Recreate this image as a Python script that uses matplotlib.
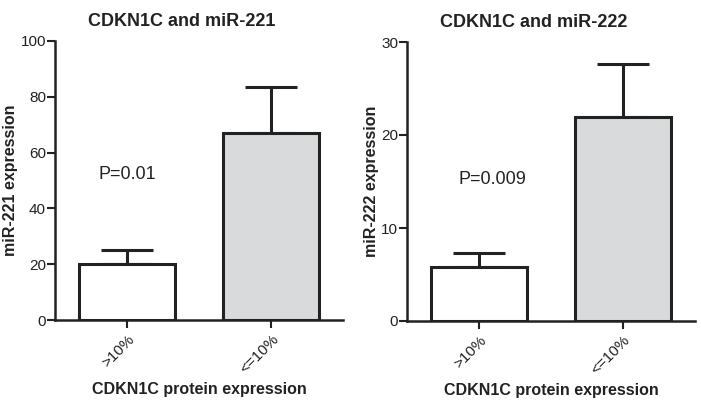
import matplotlib
matplotlib.use('Agg')
import matplotlib.pyplot as plt

# data
groups = ['>10%', '<=10%']
mir221_mean = [20.0, 67.0]
mir221_err = [5.0, 16.5]
mir222_mean = [5.8, 21.9]
mir222_err = [1.5, 5.7]
bar_colors = ['white', '#d9dadc']

plt.rcParams['font.family'] = ['Liberation Sans', 'DejaVu Sans']

fig = plt.figure(figsize=(7.01, 4.0), dpi=100)
ax1 = fig.add_axes([0.0785, 0.2, 0.411, 0.6975])
ax2 = fig.add_axes([0.5806, 0.1975, 0.411, 0.6975])

ink = '#222222'

def draw_panel(ax, means, errs, ymax, step, title, ylabel, ptext, ppos):
    x = range(len(groups))
    ax.bar(x, means, width=0.67, color=bar_colors, edgecolor=ink, linewidth=2.2, zorder=2)
    ax.errorbar(x, means, yerr=[[0] * len(errs), errs], fmt='none', ecolor=ink,
                elinewidth=2.2, capsize=19, capthick=2.2, zorder=1)
    ax.set_xlim(-0.5, 1.5)
    ax.set_ylim(0, ymax)
    ax.set_yticks(range(0, ymax + 1, step))
    ax.set_xticks(list(x))
    ax.set_xticklabels(groups, rotation=45, ha='right', rotation_mode='anchor', fontsize=11)
    ax.tick_params(axis='y', labelsize=11, width=1.5, length=6, color=ink, labelcolor=ink, pad=0.5)
    ax.tick_params(axis='x', width=1.5, length=6, color=ink, labelcolor=ink, pad=3)
    for s in ['top', 'right']:
        ax.spines[s].set_visible(False)
    for s in ['left', 'bottom']:
        ax.spines[s].set_linewidth(1.8)
        ax.spines[s].set_color(ink)
    ax.set_title(title, fontsize=13, fontweight='bold', color=ink, pad=11, x=0.44)
    ax.set_ylabel(ylabel, fontsize=11.5, fontweight='bold', color=ink, labelpad=1.5)
    ax.set_xlabel('CDKN1C protein expression', fontsize=11.5, fontweight='bold', color=ink, labelpad=4)
    ax.text(ppos[0], ppos[1], ptext, fontsize=13, color=ink, ha='center', va='center')

draw_panel(ax1, mir221_mean, mir221_err, 100, 20, 'CDKN1C and miR-221',
           'miR-221 expression', 'P=0.01', (0.0, 52))
draw_panel(ax2, mir222_mean, mir222_err, 30, 10, 'CDKN1C and miR-222',
           'miR-222 expression', 'P=0.009', (0.09, 15.2))

fig.savefig('out.png', dpi=100)
